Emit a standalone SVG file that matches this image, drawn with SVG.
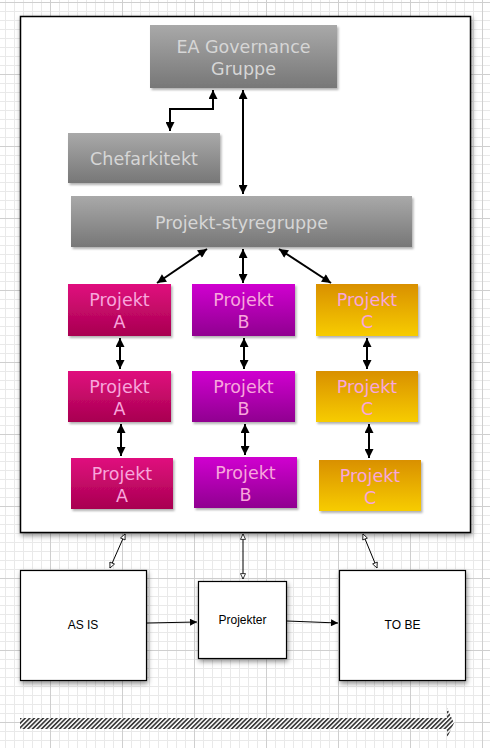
<svg xmlns="http://www.w3.org/2000/svg" width="490" height="748" viewBox="0 0 490 748">
<style>
.gtxt{font-family:"DejaVu Sans",Verdana,sans-serif;font-size:17.5px;fill:#d6d6d6;text-anchor:middle}
.ptxt{font-family:"DejaVu Sans",Verdana,sans-serif;font-size:17.5px;fill:#f8a6dc;text-anchor:middle}
.btxt{font-family:"Liberation Sans",Arial,sans-serif;font-size:12px;fill:#000;text-anchor:middle}
.thick{stroke:#000;stroke-width:2;fill:none;marker-start:url(#fa);marker-end:url(#fa)}
.open{stroke:#000;stroke-width:1;fill:none;marker-start:url(#oa);marker-end:url(#oa)}
.thin{stroke:#000;stroke-width:1;fill:none;marker-end:url(#sa)}
.wbox{fill:#fff;stroke:#000;stroke-width:1.2;filter:url(#sh2)}
</style>
<defs>
<pattern id="minor" patternUnits="userSpaceOnUse" x="5" y="2" width="9" height="9">
<path d="M0 0.5H9M0.5 0V9" stroke="#e9e9e9" stroke-width="1" fill="none"/>
</pattern>
<pattern id="major" patternUnits="userSpaceOnUse" x="50" y="2" width="72" height="72">
<path d="M0 0.5H72M0.5 0V72" stroke="#cfcfcf" stroke-width="1" fill="none"/>
</pattern>
<pattern id="hatch" patternUnits="userSpaceOnUse" width="3.2" height="3.2" patternTransform="rotate(45)">
<rect width="3.2" height="3.2" fill="#fff"/>
<rect width="1.7" height="3.2" fill="#3a3a3a"/>
</pattern>
<linearGradient id="gGray" x1="0" y1="0" x2="0" y2="1"><stop offset="0" stop-color="#a9a9a9"/><stop offset="1" stop-color="#777"/></linearGradient>
<linearGradient id="gA" x1="0" y1="0" x2="0" y2="1"><stop offset="0" stop-color="#e0107e"/><stop offset="1" stop-color="#a80050"/></linearGradient>
<linearGradient id="gB" x1="0" y1="0" x2="0" y2="1"><stop offset="0" stop-color="#d000d0"/><stop offset="1" stop-color="#900090"/></linearGradient>
<linearGradient id="gC" x1="0" y1="0" x2="0" y2="1"><stop offset="0" stop-color="#d99000"/><stop offset="1" stop-color="#f7cc00"/></linearGradient>
<filter id="sh" x="-20%" y="-20%" width="140%" height="160%">
<feDropShadow dx="1.5" dy="2" stdDeviation="1.2" flood-color="#000" flood-opacity="0.3"/>
</filter>
<filter id="sh2" x="-20%" y="-20%" width="140%" height="140%">
<feDropShadow dx="1" dy="2.5" stdDeviation="2.5" flood-color="#000" flood-opacity="0.45"/>
</filter>
<marker id="fa" markerUnits="userSpaceOnUse" viewBox="0 0 10 10" refX="10" refY="5" markerWidth="11" markerHeight="9" orient="auto-start-reverse">
<path d="M0 0L10 5L0 10Z" fill="#000"/>
</marker>
<marker id="oa" markerUnits="userSpaceOnUse" viewBox="0 0 10 10" refX="9.5" refY="5" markerWidth="9" markerHeight="6" orient="auto-start-reverse">
<path d="M0.5 0.8L9.5 5L0.5 9.2Z" fill="#fff" stroke="#000" stroke-width="1.3"/>
</marker>
<marker id="sa" markerUnits="userSpaceOnUse" viewBox="0 0 10 10" refX="10" refY="5" markerWidth="9" markerHeight="7" orient="auto">
<path d="M0 0L10 5L0 10Z" fill="#000"/>
</marker>
</defs>
<rect width="490" height="748" fill="#fff"/>
<rect width="490" height="748" fill="url(#minor)"/>
<rect width="490" height="748" fill="url(#major)"/>

<g id="frame">
<rect x="20.5" y="16.5" width="450" height="516" fill="#fff" stroke="#000" stroke-width="1.5" filter="url(#sh2)"/>
</g>

<g id="ea">
<rect x="150" y="25" width="187" height="63" fill="url(#gGray)" filter="url(#sh)"/>
<text class="gtxt" x="243.5" y="53">EA Governance</text>
<text class="gtxt" x="243.5" y="75">Gruppe</text>
</g>
<g id="chef">
<rect x="68" y="133" width="152" height="50" fill="url(#gGray)" filter="url(#sh)"/>
<text class="gtxt" x="144" y="165">Chefarkitekt</text>
</g>
<g id="styre">
<rect x="71" y="196" width="341" height="51" fill="url(#gGray)" filter="url(#sh)"/>
<text class="gtxt" x="241.5" y="229">Projekt-styregruppe</text>
</g>

<g id="a1"><rect x="68" y="284" width="103" height="52" fill="url(#gA)" filter="url(#sh)"/>
<text class="ptxt" x="119.5" y="306">Projekt</text><text class="ptxt" x="119.5" y="328">A</text></g>
<g id="b1"><rect x="192" y="284" width="103" height="52" fill="url(#gB)" filter="url(#sh)"/>
<text class="ptxt" x="243.5" y="306">Projekt</text><text class="ptxt" x="243.5" y="328">B</text></g>
<g id="c1"><rect x="316" y="284" width="102" height="52" fill="url(#gC)" filter="url(#sh)"/>
<text class="ptxt" x="367" y="306">Projekt</text><text class="ptxt" x="367" y="328">C</text></g>

<g id="a2"><rect x="68" y="371" width="103" height="51" fill="url(#gA)" filter="url(#sh)"/>
<text class="ptxt" x="119.5" y="393">Projekt</text><text class="ptxt" x="119.5" y="415">A</text></g>
<g id="b2"><rect x="192" y="371" width="103" height="51" fill="url(#gB)" filter="url(#sh)"/>
<text class="ptxt" x="243.5" y="393">Projekt</text><text class="ptxt" x="243.5" y="415">B</text></g>
<g id="c2"><rect x="316" y="371" width="102" height="51" fill="url(#gC)" filter="url(#sh)"/>
<text class="ptxt" x="367" y="393">Projekt</text><text class="ptxt" x="367" y="415">C</text></g>

<g id="a3"><rect x="71" y="458" width="102" height="51" fill="url(#gA)" filter="url(#sh)"/>
<text class="ptxt" x="122" y="480">Projekt</text><text class="ptxt" x="122" y="502">A</text></g>
<g id="b3"><rect x="194" y="457" width="103" height="51" fill="url(#gB)" filter="url(#sh)"/>
<text class="ptxt" x="245.5" y="479">Projekt</text><text class="ptxt" x="245.5" y="501">B</text></g>
<g id="c3"><rect x="319" y="460" width="102" height="51" fill="url(#gC)" filter="url(#sh)"/>
<text class="ptxt" x="370" y="482">Projekt</text><text class="ptxt" x="370" y="504">C</text></g>

<g id="asis"><rect class="wbox" x="20.5" y="570.5" width="126" height="110"/>
<text class="btxt" x="83" y="629">AS IS</text></g>
<g id="projekter"><rect class="wbox" x="198.5" y="581.5" width="88" height="77"/>
<text class="btxt" x="242.5" y="624">Projekter</text></g>
<g id="tobe"><rect class="wbox" x="339.5" y="570.5" width="126" height="110"/>
<text class="btxt" x="402.5" y="629">TO BE</text></g>

<g id="connectors">
<polyline class="thick" points="213,90 213,109 170,109 170,131"/>
<line class="thick" x1="243" y1="90" x2="243" y2="194"/>
<line class="thick" x1="207" y1="249" x2="157" y2="283"/>
<line class="thick" x1="243" y1="249" x2="243" y2="283"/>
<line class="thick" x1="279" y1="249" x2="331" y2="283"/>
<line class="thick" x1="120" y1="338" x2="120" y2="369"/>
<line class="thick" x1="244" y1="338" x2="244" y2="369"/>
<line class="thick" x1="367" y1="338" x2="367" y2="369"/>
<line class="thick" x1="121" y1="424" x2="121" y2="456"/>
<line class="thick" x1="245" y1="424" x2="245" y2="455"/>
<line class="thick" x1="369" y1="424" x2="369" y2="458"/>
<line class="open" x1="125" y1="534" x2="110" y2="568"/>
<line class="open" x1="243" y1="534" x2="243" y2="579"/>
<line class="open" x1="363" y1="534" x2="377" y2="568"/>
<line class="thin" x1="147" y1="623" x2="197" y2="622"/>
<line class="thin" x1="287" y1="621" x2="338" y2="623"/>
</g>

<g id="timeline">
<path d="M20 718H447V708L454 723L447 738V729H20Z" fill="url(#hatch)"/>
</g>
</svg>
